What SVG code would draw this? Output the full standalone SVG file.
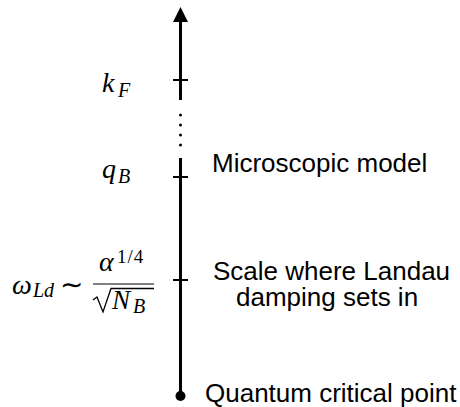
<svg xmlns="http://www.w3.org/2000/svg" width="460" height="407" viewBox="0 0 460 407">
<style>
.ax{stroke:#000;stroke-width:3;fill:none}
.tk{stroke:#000;stroke-width:2}
.lbl{font-family:"Liberation Sans",Arial,sans-serif;font-size:26px;fill:#000}
.m{font-family:"Liberation Serif","Times New Roman",serif;font-style:italic;fill:#000}
.r{font-family:"Liberation Serif","Times New Roman",serif;fill:#000}
</style>
<rect width="460" height="407" fill="#fff"/>
<g id="connectors">
<line class="ax" x1="180.5" y1="18" x2="180.5" y2="100"/>
<polygon points="180.5,7 173,22 188,22" fill="#000"/>
<circle cx="180.5" cy="115" r="1.5" fill="#000"/>
<circle cx="180.5" cy="125" r="1.5" fill="#000"/>
<circle cx="180.5" cy="135" r="1.5" fill="#000"/>
<circle cx="180.5" cy="145" r="1.5" fill="#000"/>
<line class="ax" x1="180.5" y1="158" x2="180.5" y2="396"/>
</g>
<g id="kF">
<line class="tk" x1="173" y1="80" x2="188" y2="80"/>
<text class="m" x="102" y="92" font-size="28">k</text>
<text class="m" x="118" y="97" font-size="20">F</text>
</g>
<g id="qB">
<line class="tk" x1="173" y1="177" x2="188" y2="177"/>
<text class="m" x="102" y="178" font-size="28">q</text>
<text class="m" x="118" y="183" font-size="20">B</text>
<text class="lbl" x="212" y="172">Microscopic model</text>
</g>
<g id="omegaLd">
<line class="tk" x1="173" y1="280" x2="188" y2="280"/>
<text class="m" x="12" y="294" font-size="28">ω</text>
<text class="m" x="33" y="297" font-size="20">Ld</text>
<text class="r" x="60" y="294" font-size="28">∼</text>
<text class="m" x="99" y="271" font-size="28">α</text>
<text class="r" x="117" y="263" font-size="19" letter-spacing="1">1/4</text>
<line x1="93" y1="284" x2="154" y2="284" stroke="#000" stroke-width="1.2"/>
<path d="M93,300 L97,297 L103,312 L111,288.5 L154,288.5" fill="none" stroke="#000" stroke-width="1.3"/>
<text class="m" x="112" y="309" font-size="27">N</text>
<text class="m" x="133" y="313" font-size="20">B</text>
<text class="lbl" x="213" y="280">Scale where Landau</text>
<text class="lbl" x="236" y="306">damping sets in</text>
</g>
<g id="qcp">
<circle cx="180.5" cy="396" r="5" fill="#000"/>
<text class="lbl" x="205" y="402">Quantum critical point</text>
</g>
</svg>
